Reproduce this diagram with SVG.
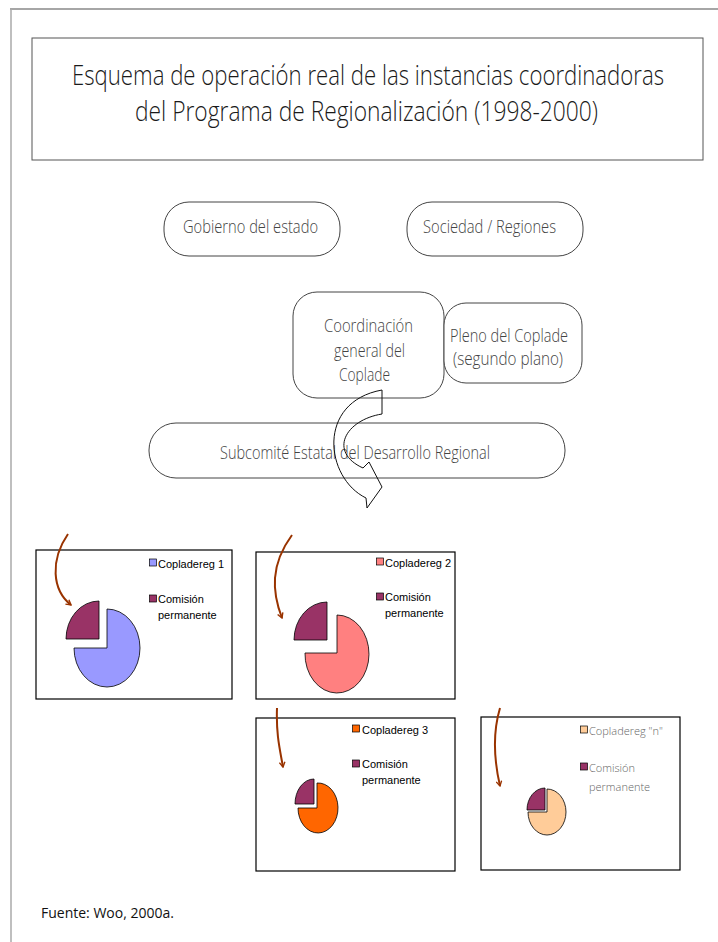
<svg xmlns="http://www.w3.org/2000/svg" width="718" height="942" viewBox="0 0 718 942">
<style>
.tbox{fill:#fff;stroke:#555;stroke-width:1}
.node{fill:#fff;stroke:#444;stroke-width:1}
.title{font-family:"Open Sans","Liberation Sans",sans-serif;font-size:28px;fill:#1a1a1a;font-weight:300}
.nt{font-family:"Open Sans","Liberation Sans",sans-serif;font-size:18px;fill:#444;font-weight:300}
.chart{fill:#fff;stroke:#000;stroke-width:1.2}
.lg{font-family:"Liberation Sans",Arial,sans-serif;font-size:11px;fill:#000}
.lg4{font-family:"Open Sans","Liberation Sans",sans-serif;font-size:11px;fill:#666;font-weight:300}
.sl{stroke:#000;stroke-width:0.8}
.brown{fill:none;stroke:#993300;stroke-width:2;marker-end:url(#bh)}
.src{font-family:"Open Sans","DejaVu Sans",sans-serif;font-size:14px;fill:#111}
</style>
<defs>
<marker id="bh" viewBox="0 0 10 10" refX="8" refY="5" markerWidth="7" markerHeight="7" orient="auto" markerUnits="userSpaceOnUse">
<path d="M1,1 L8,5 L1,9" fill="none" stroke="#993300" stroke-width="2"/>
</marker>
</defs>
<rect width="718" height="942" fill="#fff"/>
<g id="frame">
<line x1="10" y1="9" x2="718" y2="9" stroke="#888" stroke-width="1.5"/>
<line x1="11" y1="9" x2="11" y2="942" stroke="#aaa" stroke-width="1.5"/>
</g>
<g id="title">
<rect class="tbox" x="32" y="38" width="671" height="122"/>
<text class="title" x="72" y="85" textLength="592" lengthAdjust="spacingAndGlyphs">Esquema de operación real de las instancias coordinadoras</text>
<text class="title" x="135" y="121" textLength="463" lengthAdjust="spacingAndGlyphs">del Programa de Regionalización (1998-2000)</text>
</g>
<g id="gobierno">
<rect class="node" x="164" y="202" width="176" height="54" rx="25"/>
<text class="nt" x="183" y="233" textLength="135" lengthAdjust="spacingAndGlyphs">Gobierno del estado</text>
</g>
<g id="sociedad">
<rect class="node" x="407" y="202" width="176" height="54" rx="25"/>
<text class="nt" x="423" y="233" textLength="133" lengthAdjust="spacingAndGlyphs">Sociedad / Regiones</text>
</g>
<g id="coordinacion">
<rect class="node" x="293" y="292" width="151" height="106" rx="24"/>
<text class="nt" x="324" y="332" textLength="89" lengthAdjust="spacingAndGlyphs">Coordinación</text>
<text class="nt" x="334" y="357" textLength="71" lengthAdjust="spacingAndGlyphs">general del</text>
<text class="nt" x="339" y="381" textLength="51" lengthAdjust="spacingAndGlyphs">Coplade</text>
</g>
<g id="pleno">
<rect class="node" x="444" y="303" width="138" height="80" rx="22"/>
<text class="nt" x="450" y="342" textLength="118" lengthAdjust="spacingAndGlyphs">Pleno del Coplade</text>
<text class="nt" x="453" y="365" textLength="110" lengthAdjust="spacingAndGlyphs">(segundo plano)</text>
</g>
<g id="subcomite">
<rect class="node" x="149" y="423" width="416" height="55" rx="27"/>
<text class="nt" x="220" y="459" textLength="270" lengthAdjust="spacingAndGlyphs">Subcomité Estatal del Desarrollo Regional</text>
</g>
<g id="chart1">
<rect class="chart" x="36" y="550" width="196" height="149"/>
<path class="sl" fill="#9999FF" d="M107,648 L107,609 A33,39 0 1 1 74,648 Z"/>
<path class="sl" fill="#993366" d="M99,639 L66,639 A33,38 0 0 1 99,601 Z"/>
<rect x="149.5" y="559" width="7" height="7" fill="#9999FF" stroke="#000" stroke-width="0.7"/>
<text class="lg" x="158" y="568">Copladereg 1</text>
<rect x="149.5" y="595" width="7" height="7" fill="#993366" stroke="#000" stroke-width="0.7"/>
<text class="lg" x="158" y="603">Comisión</text>
<text class="lg" x="158" y="619">permanente</text>
</g>
<g id="chart2">
<rect class="chart" x="256" y="552" width="199" height="147"/>
<path class="sl" fill="#FF8080" d="M337,653 L337,615 A32,39 0 1 1 305,653 Z"/>
<path class="sl" fill="#993366" d="M327,640 L294,640 A33,38 0 0 1 327,602 Z"/>
<rect x="376.5" y="558" width="7" height="7" fill="#FF8080" stroke="#000" stroke-width="0.7"/>
<text class="lg" x="385" y="567">Copladereg 2</text>
<rect x="376.5" y="593" width="7" height="7" fill="#993366" stroke="#000" stroke-width="0.7"/>
<text class="lg" x="385" y="601">Comisión</text>
<text class="lg" x="385" y="617">permanente</text>
</g>
<g id="chart3">
<rect class="chart" x="256" y="718" width="199" height="153"/>
<path class="sl" fill="#FF6600" d="M317,808 L317,783 A20,25 0 1 1 298,808 Z"/>
<path class="sl" fill="#993366" d="M314,804 L295,804 A19,25 0 0 1 314,779 Z"/>
<rect x="352.5" y="725" width="7" height="7" fill="#FF6600" stroke="#000" stroke-width="0.7"/>
<text class="lg" x="362" y="734">Copladereg 3</text>
<rect x="352.5" y="760" width="7" height="7" fill="#993366" stroke="#000" stroke-width="0.7"/>
<text class="lg" x="362" y="768">Comisión</text>
<text class="lg" x="362" y="784">permanente</text>
</g>
<g id="chart4">
<rect class="chart" x="481" y="717" width="199" height="153"/>
<path class="sl" fill="#FFCC99" d="M547,812 L547,789 A19,23 0 1 1 528,812 Z"/>
<path class="sl" fill="#993366" d="M545,810 L527,810 A18,22 0 0 1 545,788 Z"/>
<rect x="580.5" y="726" width="7" height="7" fill="#FFCC99" stroke="#000" stroke-width="0.7"/>
<text class="lg4" x="589" y="735">Copladereg  "n"</text>
<rect x="580.5" y="763" width="7" height="7" fill="#993366" stroke="#000" stroke-width="0.7"/>
<text class="lg4" x="589" y="772">Comisión</text>
<text class="lg4" x="589" y="791">permanente</text>
</g>
<g id="connectors">
<path d="M382,390 L382,414 C345,420 328,452 363,468 L369,462 L382,487 L367,508 L366,498 C325,478 316,402 382,390 Z" fill="none" stroke="#111" stroke-width="1"/>
<path class="brown" d="M68,534 C50,560 52,590 71,605"/>
<path class="brown" d="M292,535 C270,565 272,592 282,618"/>
<path class="brown" d="M277,708 C276,735 280,750 283,767"/>
<path class="brown" d="M500,708 C492,735 494,760 500,786"/>
</g>
<g id="source">
<text class="src" x="41" y="918">Fuente: Woo, 2000a.</text>
</g>
</svg>
